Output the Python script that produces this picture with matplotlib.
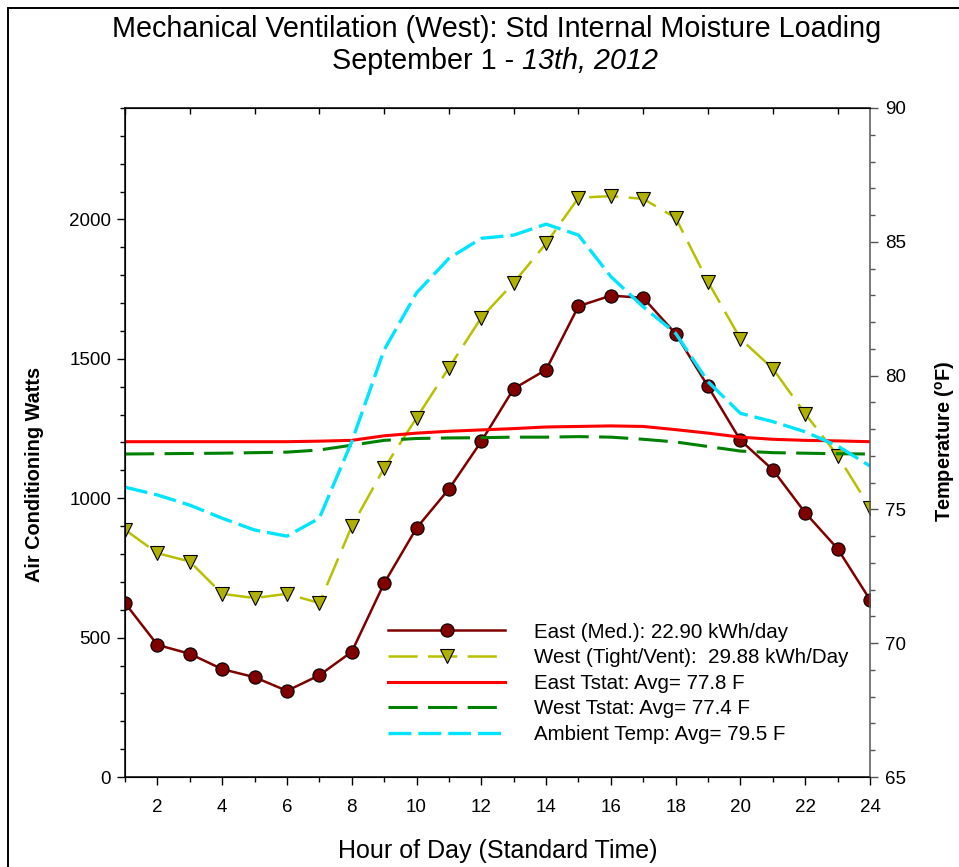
import matplotlib
matplotlib.use('Agg')
import matplotlib.pyplot as plt
from matplotlib.patches import Rectangle
from matplotlib.ticker import MultipleLocator, FixedLocator

plt.rcParams['font.family'] = ['Liberation Sans', 'DejaVu Sans']
plt.rcParams['mathtext.fontset'] = 'custom'
plt.rcParams['mathtext.rm'] = 'Liberation Sans'
plt.rcParams['mathtext.it'] = 'Liberation Sans:italic'
plt.rcParams['mathtext.bf'] = 'Liberation Sans:bold'
plt.rcParams['lines.scale_dashes'] = False

hours = list(range(1, 25))

# watts
east_med = [624, 474, 442, 387, 358, 309, 365, 449, 695, 893, 1033, 1204,
            1393, 1461, 1689, 1727, 1719, 1590, 1401, 1208, 1102, 948, 819, 636]
west_vent = [887, 803, 773, 657, 642, 657, 624, 899, 1108, 1288, 1468, 1648,
             1773, 1914, 2078, 2084, 2074, 2006, 1776, 1572, 1465, 1303, 1153, 966]

# temperatures (F)
east_tstat = [77.53, 77.53, 77.53, 77.53, 77.53, 77.53, 77.55, 77.58, 77.75, 77.85,
              77.92, 77.97, 78.02, 78.08, 78.10, 78.12, 78.10, 77.98, 77.85, 77.70,
              77.62, 77.58, 77.56, 77.53]
west_tstat = [77.07, 77.08, 77.09, 77.10, 77.12, 77.14, 77.22, 77.40, 77.58, 77.65,
              77.67, 77.68, 77.70, 77.70, 77.72, 77.70, 77.62, 77.52, 77.35, 77.18,
              77.12, 77.10, 77.08, 77.07]
ambient = [75.83, 75.54, 75.16, 74.67, 74.23, 74.00, 74.67, 77.53, 80.96, 83.09,
           84.38, 85.13, 85.25, 85.66, 85.25, 83.70, 82.57, 81.58, 79.77, 78.59,
           78.28, 77.90, 77.37, 76.62]

labels = ['East (Med.): 22.90 kWh/day',
          'West (Tight/Vent):  29.88 kWh/Day',
          'East Tstat: Avg= 77.8 F',
          'West Tstat: Avg= 77.4 F',
          'Ambient Temp: Avg= 79.5 F']

W, H = 959, 867
fig = plt.figure(figsize=(W / 100, H / 100), dpi=100)
ax = fig.add_axes([125 / W, 1 - 777 / H, 745 / W, 669 / H])
ax2 = ax.twinx()

l1, = ax.plot(hours, east_med, color='#800000', lw=1.8, marker='o', markersize=9.5,
              markerfacecolor='#800000', markeredgecolor='black', markeredgewidth=0.8)
l2, = ax.plot(hours, west_vent, color='#b8c000', lw=1.8, dashes=(21, 7.5), marker='v',
              markersize=10, markerfacecolor='#b0b000', markeredgecolor='black',
              markeredgewidth=0.8)
l3, = ax2.plot(hours, east_tstat, color='#ff0000', lw=2.2)
l4, = ax2.plot(hours, west_tstat, color='#008000', lw=2.2, dashes=(21, 7.5))
l5, = ax2.plot(hours, ambient, color='#00e5ff', lw=2.4, dashes=(16.5, 5))

ax.set_xlim(1, 24)
ax.set_ylim(0, 2400)
ax2.set_ylim(65, 90)

ax.xaxis.set_major_locator(FixedLocator(range(2, 25, 2)))
ax.xaxis.set_minor_locator(FixedLocator(range(1, 25, 2)))
ax.yaxis.set_major_locator(FixedLocator([0, 500, 1000, 1500, 2000]))
ax.yaxis.set_minor_locator(MultipleLocator(100))
ax2.yaxis.set_major_locator(MultipleLocator(5))
ax2.yaxis.set_minor_locator(MultipleLocator(1))

ax.tick_params(which='major', direction='out', length=6, width=1, labelsize=13.5, pad=4)
ax.tick_params(axis='x', which='major', pad=10)
ax.tick_params(which='minor', direction='out', length=3.5, width=1)
ax2.tick_params(which='major', direction='out', length=6, width=1, labelsize=13.5,
                color='#555555', pad=5)
ax2.tick_params(which='minor', direction='out', length=3.5, width=1, color='#555555')

top = ax.secondary_xaxis('top')
top.set_xticks(range(1, 25, 2))
top.tick_params(direction='in', length=4, width=1, labeltop=False)
top.spines['top'].set_visible(False)

for side in ['left', 'bottom', 'top']:
    ax.spines[side].set_linewidth(1.1)
ax2.spines['right'].set_color('#555555')
ax2.spines['right'].set_linewidth(1.1)
ax.spines['right'].set_visible(False)

ax.set_xlabel('Hour of Day (Standard Time)', fontsize=18)
ax.xaxis.set_label_coords(0.5, (777 - 839) / 669)
ax.set_ylabel('Air Conditioning Watts', fontsize=14.3, fontweight='bold')
ax.yaxis.set_label_coords((44 - 125) / 745, (777 - 474) / 669)
ax2.set_ylabel(r'Temperature ($\mathbf{^o}$F)', fontsize=14.3, fontweight='bold')
ax2.yaxis.set_label_coords((933 - 125) / 745, (777 - 441) / 669)

fig.text(497 / W, 1 - 37 / H, 'Mechanical Ventilation (West): Std Internal Moisture Loading',
         ha='center', va='baseline', fontsize=20.7)
fig.text(514 / W, 1 - 69 / H, 'September 1 -', ha='right', va='baseline', fontsize=20.7)
fig.text(522 / W, 1 - 69 / H, '13th, 2012', ha='left', va='baseline', fontsize=20.7,
         fontstyle='italic')

ax2.legend([l1, l2, l3, l4, l5], labels, loc='lower left', frameon=False,
           bbox_to_anchor=((388 - 125) / 745, (777 - 744) / 669), borderaxespad=0,
           borderpad=0, fontsize=14.8, handlelength=5.7, handletextpad=1.4,
           labelspacing=0.32, numpoints=1)

fig.patches.append(Rectangle((8 / W, -0.1), 1.2, 1.1 - 8 / H, transform=fig.transFigure,
                             fill=False, edgecolor='black', lw=1.4, clip_on=False))

fig.savefig('out.png', dpi=100)
